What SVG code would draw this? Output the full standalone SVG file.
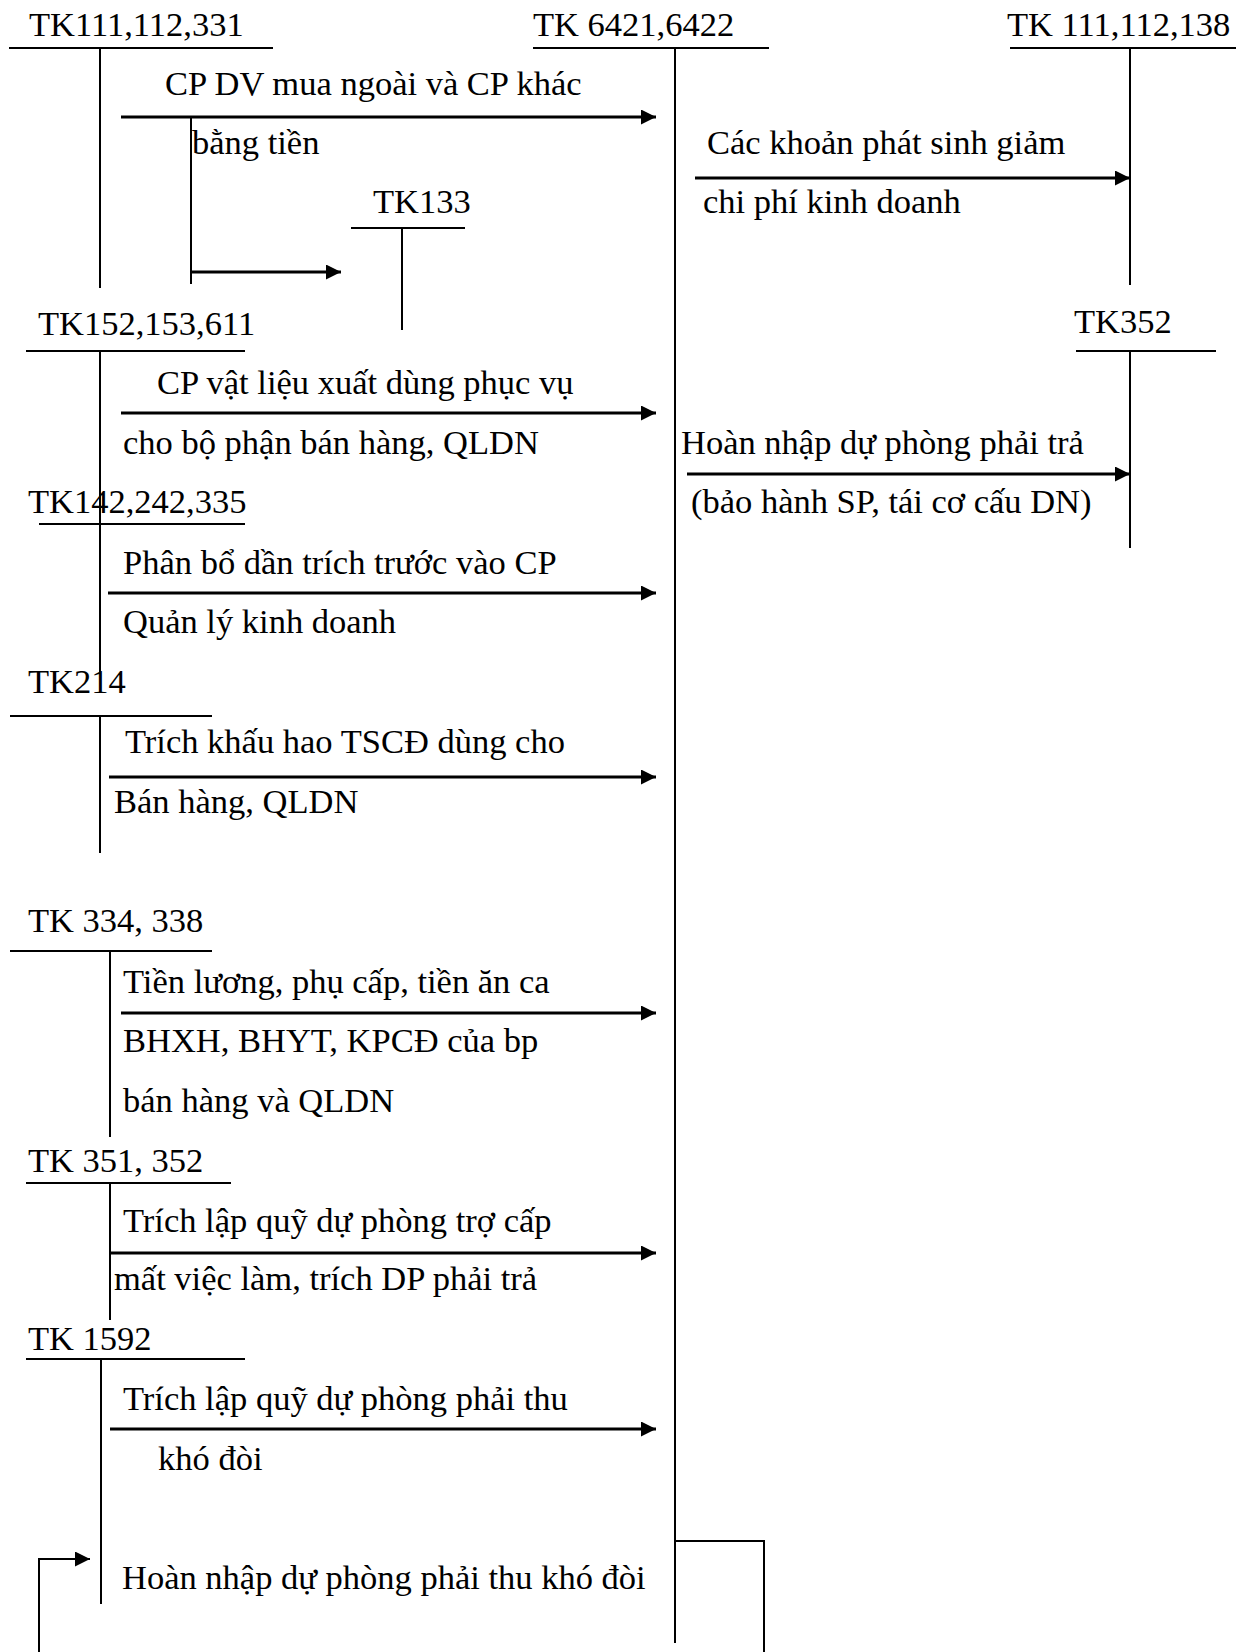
<svg xmlns="http://www.w3.org/2000/svg" width="1245" height="1652" viewBox="0 0 1245 1652">
<style>
text{font-family:"Liberation Serif","Times New Roman",serif;font-size:34.5px;fill:#000}
.h{stroke:#000;stroke-width:2;fill:none}
.v{stroke:#000;stroke-width:2;fill:none}
.a{stroke:#000;stroke-width:3;fill:none;marker-end:url(#ah)}
.p{stroke:#000;stroke-width:2;fill:none}
</style>
<defs>
<marker id="ah" markerUnits="userSpaceOnUse" markerWidth="16" markerHeight="16" refX="15" refY="7.5" orient="auto">
<path d="M0,0 L15,7.5 L0,15 z" fill="#000"/>
</marker>
</defs>
<rect width="1245" height="1652" fill="#fff"/>
<g id="tk111_112_331"><text x="29" y="36">TK111,112,331</text><line class="h" x1="9" y1="48" x2="273" y2="48"/><line class="v" x1="100" y1="48" x2="100" y2="288"/></g>
<g id="tk6421_6422"><text x="533" y="36">TK 6421,6422</text><line class="h" x1="533" y1="48" x2="769" y2="48"/><line class="v" x1="675" y1="48" x2="675" y2="1643"/></g>
<g id="tk111_112_138"><text x="1007" y="36">TK 111,112,138</text><line class="h" x1="1010" y1="48" x2="1236" y2="48"/><line class="v" x1="1130" y1="48" x2="1130" y2="285"/></g>
<g id="tk133"><text x="373" y="213">TK133</text><line class="h" x1="351" y1="228" x2="465" y2="228"/><line class="v" x1="402" y1="228" x2="402" y2="330"/></g>
<g id="tk152_153_611"><text x="38" y="335">TK152,153,611</text><line class="h" x1="26" y1="351" x2="245" y2="351"/><line class="v" x1="100" y1="351" x2="100" y2="672"/></g>
<g id="tk352"><text x="1074" y="333">TK352</text><line class="h" x1="1076" y1="351" x2="1216" y2="351"/><line class="v" x1="1130" y1="351" x2="1130" y2="548"/></g>
<g id="tk142_242_335"><text x="28" y="513">TK142,242,335</text><line class="h" x1="39" y1="524" x2="245" y2="524"/></g>
<g id="tk214"><text x="28" y="693">TK214</text><line class="h" x1="10" y1="716" x2="212" y2="716"/><line class="v" x1="100" y1="716" x2="100" y2="853"/></g>
<g id="tk334_338"><text x="28" y="932">TK 334, 338</text><line class="h" x1="10" y1="951" x2="212" y2="951"/><line class="v" x1="110" y1="951" x2="110" y2="1137"/></g>
<g id="tk351_352"><text x="28" y="1172">TK 351, 352</text><line class="h" x1="26" y1="1183" x2="231" y2="1183"/><line class="v" x1="110" y1="1183" x2="110" y2="1320"/></g>
<g id="tk1592"><text x="28" y="1350">TK 1592</text><line class="h" x1="26" y1="1359" x2="245" y2="1359"/><line class="v" x1="101" y1="1359" x2="101" y2="1604"/></g>
<g id="connectors">
<line class="a" x1="121" y1="117" x2="656" y2="117"/>
<polyline class="p" points="191,117 191,284"/>
<line class="a" x1="191" y1="272" x2="341" y2="272"/>
<line class="a" x1="695" y1="178" x2="1130" y2="178"/>
<line class="a" x1="121" y1="413" x2="656" y2="413"/>
<line class="a" x1="687" y1="474" x2="1130" y2="474"/>
<line class="a" x1="108" y1="593" x2="656" y2="593"/>
<line class="a" x1="109" y1="777" x2="656" y2="777"/>
<line class="a" x1="121" y1="1013" x2="656" y2="1013"/>
<line class="a" x1="110" y1="1253" x2="656" y2="1253"/>
<line class="a" x1="110" y1="1429" x2="656" y2="1429"/>
<polyline class="p" points="675,1541 764,1541 764,1652"/>
<polyline class="p" points="39,1652 39,1559 76,1559"/>
<line class="a" x1="76" y1="1559" x2="90" y2="1559" style="stroke-width:2"/>
</g>
<g id="labels">
<text x="165" y="95">CP DV mua ngoài và CP khác</text>
<text x="192" y="154">bằng tiền</text>
<text x="707" y="154">Các khoản phát sinh giảm</text>
<text x="703" y="213">chi phí kinh doanh</text>
<text x="157" y="394">CP vật liệu xuất dùng phục vụ</text>
<text x="123" y="454">cho bộ phận bán hàng, QLDN</text>
<text x="681" y="454">Hoàn nhập dự phòng phải trả</text>
<text x="691" y="513">(bảo hành SP, tái cơ cấu DN)</text>
<text x="123" y="574">Phân bổ dần trích trước vào CP</text>
<text x="123" y="633">Quản lý kinh doanh</text>
<text x="125" y="753">Trích khấu hao TSCĐ dùng cho</text>
<text x="114" y="813">Bán hàng, QLDN</text>
<text x="123" y="993">Tiền lương, phụ cấp, tiền ăn ca</text>
<text x="123" y="1052">BHXH, BHYT, KPCĐ của bp</text>
<text x="123" y="1112">bán hàng và QLDN</text>
<text x="123" y="1232">Trích lập quỹ dự phòng trợ cấp</text>
<text x="114" y="1290">mất việc làm, trích DP phải trả</text>
<text x="123" y="1410">Trích lập quỹ dự phòng phải thu</text>
<text x="158" y="1470">khó đòi</text>
<text x="122" y="1589">Hoàn nhập dự phòng phải thu khó đòi</text>
</g>
</svg>
